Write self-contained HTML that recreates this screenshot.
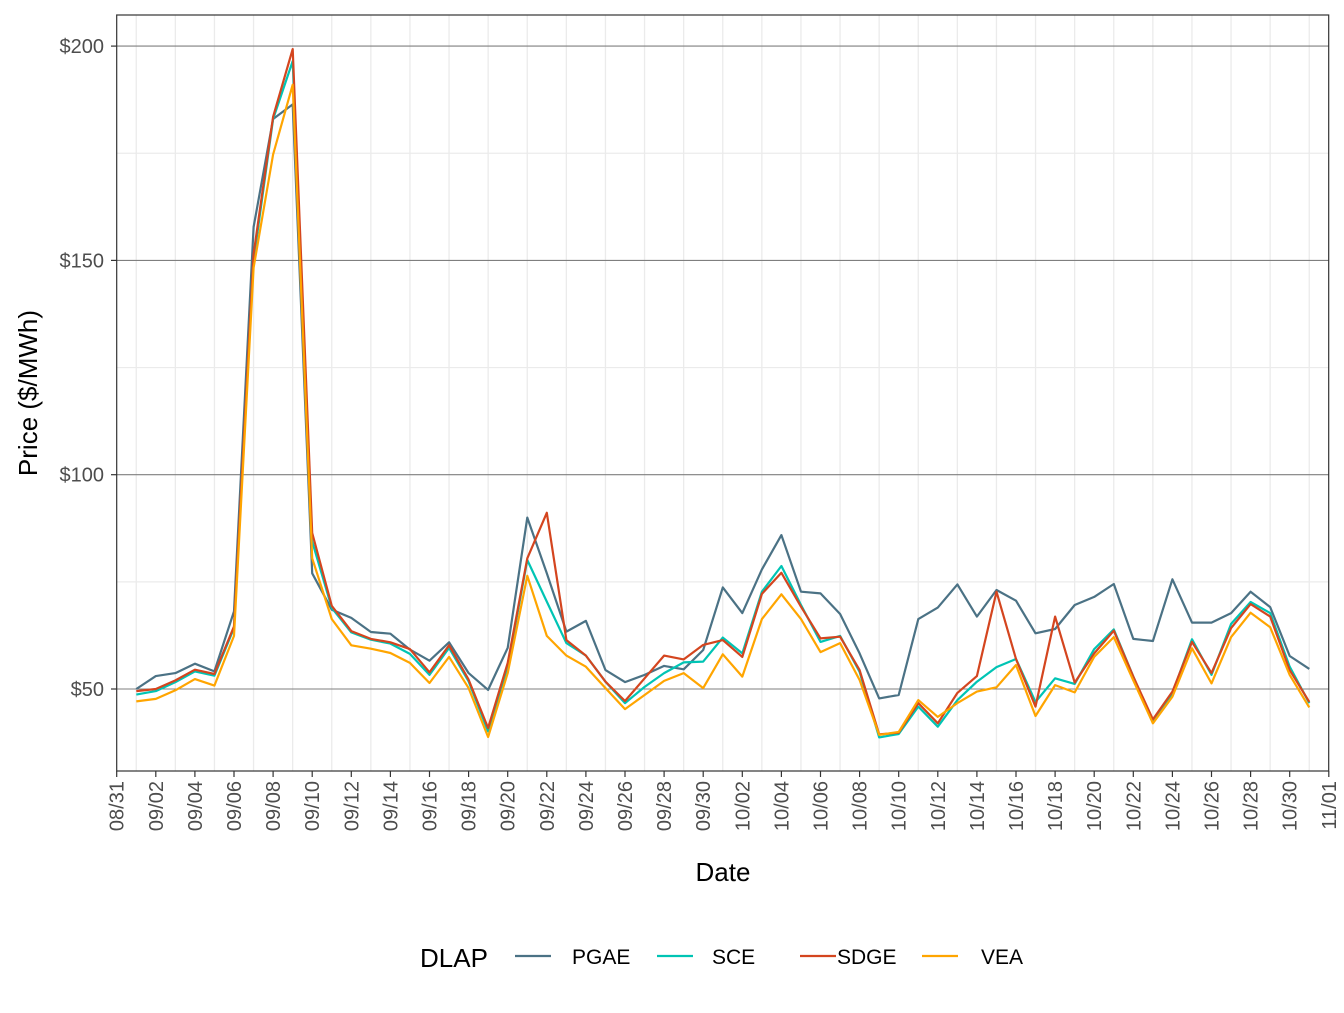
<!DOCTYPE html>
<html><head><meta charset="utf-8"><style>
body{margin:0;background:#fff}
svg text{font-family:"Liberation Sans",sans-serif}
</style></head><body>
<svg id="chart" width="1344" height="1008" viewBox="0 0 1344 1008" xmlns="http://www.w3.org/2000/svg">
<rect width="1344" height="1008" fill="#fff"/>
<g id="grid"></g>
<g id="lines"></g>
<rect x="116.7" y="15" width="1212" height="756" fill="none" stroke="#333" stroke-width="1.2"/>
<g id="axes"></g>
<text x="723" y="881" font-size="26" text-anchor="middle" fill="#000">Date</text>
<text transform="translate(37,393) rotate(-90)" font-size="26" text-anchor="middle" fill="#000">Price ($/MWh)</text>
<g>
<text x="420" y="967" font-size="26" fill="#000">DLAP</text>
<g id="legend"></g>
</g>
</svg>
<script>
const days=["09/01","09/02","09/03","09/04","09/05","09/06","09/07","09/08","09/09","09/10","09/11","09/12","09/13","09/14","09/15","09/16","09/17","09/18","09/19","09/20","09/21","09/22","09/23","09/24","09/25","09/26","09/27","09/28","09/29","09/30","10/01","10/02","10/03","10/04","10/05","10/06","10/07","10/08","10/09","10/10","10/11","10/12","10/13","10/14","10/15","10/16","10/17","10/18","10/19","10/20","10/21","10/22","10/23","10/24","10/25","10/26","10/27","10/28","10/29","10/30","10/31"];
const pgae=[50,53,53.7,55.9,54.1,68.1,157.8,183,186.4,77,68.5,66.6,63.3,62.9,59.2,56.6,60.9,53.7,49.8,59.6,90,77,63.4,65.9,54.4,51.6,53.3,55.4,54.6,59.1,73.7,67.7,77.9,85.9,72.7,72.3,67.5,58.3,47.8,48.6,66.3,69,74.4,66.9,73.1,70.6,63,64,69.6,71.5,74.5,61.7,61.2,75.6,65.5,65.5,67.7,72.7,69.1,57.7,54.7];
const sce=[48.7,49.5,51.6,54.1,53.1,64.2,150,183,196.5,84.4,68.9,63.2,61.5,60.6,58.2,53.3,59.6,51.8,40.1,55.3,80.1,70.4,60.7,57.8,51.7,46.7,50.5,53.7,56.2,56.4,62,58.3,72.7,78.7,69.6,61,62.4,54,38.7,39.5,45.9,41.2,47.4,51.7,55.1,57,47,52.5,51.2,59.3,63.9,52.9,42.1,49,61.6,53.3,65.2,70.3,67.7,55.2,46.7];
const sdge=[49.5,50,52,54.5,53.5,64.6,151.5,183.5,199.3,86.4,69.4,63.5,61.7,60.9,59.3,53.9,60.2,52.2,40.9,56.1,80.5,91.1,61.4,57.8,51.7,47.2,52.5,57.8,56.9,60.3,61.4,57.5,72.2,77.1,69.2,61.8,62.2,54.4,39.4,39.8,46.7,42,49.1,53,72.7,57,45.9,66.9,51.5,58.3,63.6,52.9,42.9,49.4,61,53.7,64.2,69.8,66.9,54.4,47];
const vea=[47.1,47.7,49.7,52.3,50.8,62.4,148.3,174.7,191,80.5,66.3,60.2,59.4,58.4,56.1,51.4,57.5,50.2,38.8,53.7,76.4,62.4,57.8,55.2,50.2,45.3,48.6,51.9,53.7,50.2,58.1,52.9,66.3,72.1,66.3,58.6,60.7,52.1,39.3,40,47.4,43.5,46.7,49.4,50.4,55.6,43.7,50.9,49.2,57.5,62.1,52,42,48.2,59.5,51.3,62.1,67.8,64.4,53.3,45.7];
const yTicks=[50,100,150,200];
const yMinor=[75,125,175];
const xTickLabels=["08/31","09/02","09/04","09/06","09/08","09/10","09/12","09/14","09/16","09/18","09/20","09/22","09/24","09/26","09/28","09/30","10/02","10/04","10/06","10/08","10/10","10/12","10/14","10/16","10/18","10/20","10/22","10/24","10/26","10/28","10/30","11/01"];
const seriesNames=["PGAE","SCE","SDGE","VEA"];
const seriesData=[pgae,sce,sdge,vea];
const colors=["#4b7285","#00c4b4","#d4451f","#ffa500"];

const X0=116.7,DAY=19.55,Y50=689,PX=4.286;
const x=d=>X0+d*DAY;
const y=v=>Y50-(v-50)*PX;
const NS="http://www.w3.org/2000/svg";
function mk(tag,attrs,parent){const e=document.createElementNS(NS,tag);for(const k in attrs)e.setAttribute(k,attrs[k]);parent.appendChild(e);return e;}
const grid=document.getElementById('grid'),lines=document.getElementById('lines'),axes=document.getElementById('axes'),legend=document.getElementById('legend');

yMinor.forEach(v=>{const l=mk('line',{x1:116.7,x2:1328.7,y1:y(v),y2:y(v),stroke:'#ebebeb','stroke-width':1.2},grid);

});
for(let d=1;d<62;d+=2){const l=mk('line',{x1:x(d),x2:x(d),y1:15,y2:771,stroke:'#ebebeb','stroke-width':1.3},grid);

}
yTicks.forEach(v=>{const l=mk('line',{x1:116.7,x2:1328.7,y1:y(v),y2:y(v),stroke:'#7f7f7f','stroke-width':1.1},grid);


const t=mk('line',{x1:111,x2:116.7,y1:y(v),y2:y(v),stroke:'#333','stroke-width':1.2},axes);


const tx=mk('text',{x:104,y:y(v)+7,'font-size':20,'text-anchor':'end',fill:'#4d4d4d'},axes);
tx.textContent='$'+v;

});

xTickLabels.forEach((lab,i)=>{const xx=x(i*2);
const t=mk('line',{x1:xx,x2:xx,y1:771,y2:777,stroke:'#333','stroke-width':1.2},axes);


const tx=mk('text',{transform:`translate(${xx+7},781) rotate(-90)`,'font-size':20,'text-anchor':'end',fill:'#4d4d4d'},axes);
tx.textContent=lab;

});

seriesData.forEach((arr,si)=>{const pts=arr.map((v,i)=>x(i+1).toFixed(1)+','+y(v).toFixed(1)).join(' ');
const p=mk('polyline',{points:pts,fill:'none',stroke:colors[si],'stroke-width':2.2,'stroke-linejoin':'round'},lines);

});

const legX=[515,657,800,922],legTX=[572,712,837,981];
seriesNames.forEach((n,i)=>{const l=mk('line',{x1:legX[i],x2:legX[i]+36,y1:956,y2:956,stroke:colors[i],'stroke-width':2.2},legend);


const t=mk('text',{x:legTX[i],y:964,'font-size':21,fill:'#000'},legend);
t.textContent=n;

});
</script>
</body></html>
